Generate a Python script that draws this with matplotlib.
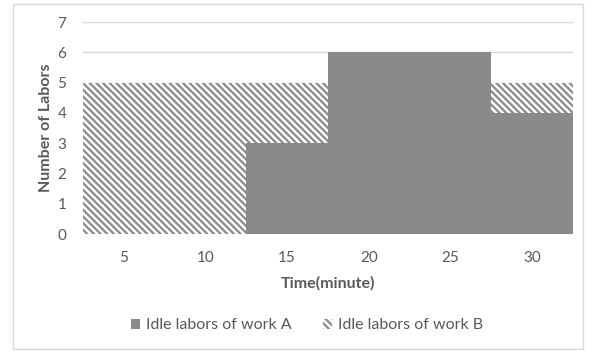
import matplotlib
matplotlib.use("Agg")
import matplotlib.pyplot as plt
from matplotlib.patches import Rectangle

# Idle labors per time slot (stacked: A at the bottom, B on top)
time_labels = ["5", "10", "15", "20", "25", "30"]
idle_a = [0, 0, 3, 6, 6, 4]
idle_b = [5, 5, 2, 0, 0, 1]

text_col = "#595959"
bar_col = "#8a8a8a"
grid_col = "#d9d9d9"

plt.rcParams["font.family"] = ["Lato", "DejaVu Sans"]
plt.rcParams["hatch.linewidth"] = 1.6

fig = plt.figure(figsize=(5.93, 3.51), dpi=100)
ax = fig.add_axes([0.140, 0.333, 0.826, 0.604])

x = list(range(len(time_labels)))
ax.bar(x, idle_a, width=1.0, color=bar_col, linewidth=0, zorder=2,
       label="Idle labors of work A")
ax.bar(x, idle_b, width=1.0, bottom=idle_a, facecolor="white",
       edgecolor=bar_col, hatch="\\\\\\\\\\", linewidth=0, zorder=2,
       label="Idle labors of work B")

ax.set_xlim(-0.5, len(x) - 0.5)
ax.set_ylim(0, 7)
ax.set_yticks(range(0, 8))
ax.set_xticks(x)
ax.set_xticklabels(time_labels)
ax.yaxis.grid(True, color=grid_col, linewidth=1.0, zorder=0)
ax.set_axisbelow(True)
for s in ax.spines.values():
    s.set_visible(False)
ax.tick_params(length=0, colors=text_col, labelsize=11)
ax.tick_params(axis="x", pad=12)
ax.tick_params(axis="y", pad=12)

ax.set_xlabel("Time(minute)", color=text_col, fontsize=11.5,
              fontweight="bold", labelpad=8)
ax.set_ylabel("Number of Labors", color=text_col, fontsize=11.5,
              fontweight="bold", labelpad=3)

leg = fig.legend(loc="center", bbox_to_anchor=(0.518, 0.073), ncol=2,
                 frameon=False, fontsize=11.5, handlelength=0.55,
                 handleheight=0.55, handletextpad=0.35, columnspacing=2.0)
for t in leg.get_texts():
    t.set_color(text_col)

# light outer border around the chart
fig.patches.append(Rectangle((13 / 593, 2 / 351), 570 / 593, 345 / 351,
                             transform=fig.transFigure, fill=False,
                             edgecolor=grid_col, linewidth=1.0))

fig.savefig("out.png", dpi=100)
